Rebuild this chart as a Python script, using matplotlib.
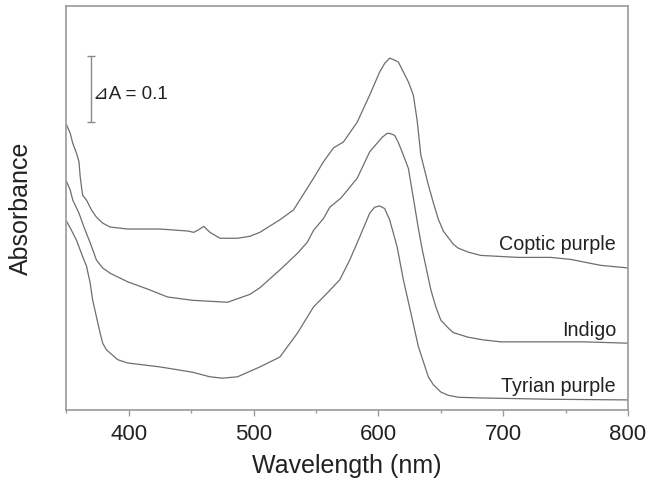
import matplotlib
matplotlib.use("Agg")
import matplotlib.pyplot as plt
from matplotlib.ticker import MultipleLocator

plt.rcParams['font.family'] = ['Liberation Sans', 'DejaVu Sans']

# ---- data (wavelength in nm, absorbance with vertical offsets as in the figure) ----
coptic_wl = [350, 353, 355, 358, 360, 361, 362, 363, 366, 370, 374, 379, 385, 399, 425, 447,
             452, 456, 460, 465, 473, 487, 497, 505, 521, 532, 540, 548, 556, 564, 572, 583,
             593, 601, 605, 609, 613, 616, 620, 624, 628, 631, 634, 640, 644, 648, 652, 656,
             660, 664, 672, 682, 712, 738, 754, 778, 800]
coptic_a = [0.433, 0.420, 0.405, 0.390, 0.377, 0.354, 0.339, 0.326, 0.319, 0.304, 0.293, 0.284,
            0.278, 0.275, 0.275, 0.272, 0.270, 0.274, 0.279, 0.270, 0.261, 0.261, 0.264, 0.270,
            0.289, 0.304, 0.328, 0.352, 0.377, 0.398, 0.407, 0.437, 0.478, 0.513, 0.526, 0.534,
            0.531, 0.528, 0.513, 0.498, 0.478, 0.440, 0.387, 0.342, 0.315, 0.290, 0.272, 0.262,
            0.252, 0.246, 0.240, 0.235, 0.232, 0.232, 0.229, 0.220, 0.216]

indigo_wl = [350, 353, 355, 360, 364, 369, 374, 379, 385, 399, 415, 431, 451, 479, 491, 497,
             505, 521, 535, 543, 548, 556, 561, 570, 583, 593, 603, 607, 609, 613, 616, 620,
             624, 628, 632, 635, 642, 646, 650, 656, 660, 672, 684, 698, 738, 765, 800]
indigo_a = [0.347, 0.334, 0.319, 0.299, 0.278, 0.254, 0.228, 0.216, 0.208, 0.195, 0.184, 0.172,
            0.167, 0.164, 0.172, 0.176, 0.186, 0.213, 0.238, 0.255, 0.273, 0.291, 0.308, 0.322,
            0.352, 0.392, 0.414, 0.420, 0.420, 0.417, 0.406, 0.387, 0.367, 0.322, 0.276, 0.245,
            0.183, 0.157, 0.137, 0.125, 0.118, 0.111, 0.107, 0.104, 0.104, 0.104, 0.102]

tyrian_wl = [350, 354, 358, 363, 366, 369, 371, 374, 377, 379, 382, 391, 399, 425, 451, 465,
             475, 487, 505, 521, 535, 548, 559, 569, 577, 585, 593, 597, 601, 605, 609, 615,
             620, 626, 632, 640, 644, 650, 656, 664, 682, 738, 800]
tyrian_a = [0.287, 0.273, 0.258, 0.233, 0.219, 0.193, 0.167, 0.142, 0.117, 0.102, 0.092, 0.077,
            0.072, 0.066, 0.058, 0.051, 0.049, 0.051, 0.066, 0.081, 0.117, 0.157, 0.178, 0.198,
            0.228, 0.263, 0.299, 0.308, 0.310, 0.306, 0.289, 0.248, 0.198, 0.148, 0.097, 0.051,
            0.039, 0.028, 0.023, 0.020, 0.019, 0.017, 0.016]

series_names = ["Coptic purple", "Indigo", "Tyrian purple"]
label_y = [0.243, 0.113, 0.028]

x_ticks = [400, 500, 600, 700, 800]
scale_bar_x = 370
scale_bar_center = 0.487
scale_bar_delta = 0.1

# ---- figure ----
fig = plt.figure(figsize=(6.61, 4.84), dpi=100)
ax = fig.add_axes([0.1006, 0.1519, 0.8494, 0.8357])

line_color = "#6e6e6e"
text_color = "#222222"
frame_color = "#9a9a9a"

for wl, a in [(coptic_wl, coptic_a), (indigo_wl, indigo_a), (tyrian_wl, tyrian_a)]:
    ax.plot(wl, a, color=line_color, lw=0.9)

for name, y in zip(series_names, label_y):
    ax.text(790.4, y, name, ha="right", va="baseline", fontsize=14.2, color=text_color)

# scale bar
ax.errorbar([scale_bar_x], [scale_bar_center], yerr=scale_bar_delta / 2, color="#8a8a8a",
            capsize=3.2, elinewidth=1.0, capthick=1.0, fmt="none")
ax.text(371.5, 0.472, "\u22bfA = 0.1", ha="left", va="baseline", fontsize=13.5,
        color=text_color, family=['Liberation Sans', 'DejaVu Sans'])

ax.set_xlim(350, 800)
ax.set_ylim(0, 0.613)
ax.set_xticks(x_ticks)
ax.xaxis.set_minor_locator(MultipleLocator(50))
ax.set_yticks([])

for sp in ax.spines.values():
    sp.set_color(frame_color)
    sp.set_linewidth(1.2)

ax.tick_params(axis="x", which="major", direction="out", length=4, width=1.0,
               color=frame_color, labelsize=16, labelcolor=text_color, pad=6)
ax.tick_params(axis="x", which="minor", direction="out", length=2.5, width=1.0,
               color=frame_color)

ax.set_xlabel("Wavelength (nm)", fontsize=18, color=text_color, labelpad=6)
ax.set_ylabel("Absorbance", fontsize=18, color=text_color, labelpad=24)

fig.savefig("out.png", dpi=100)
